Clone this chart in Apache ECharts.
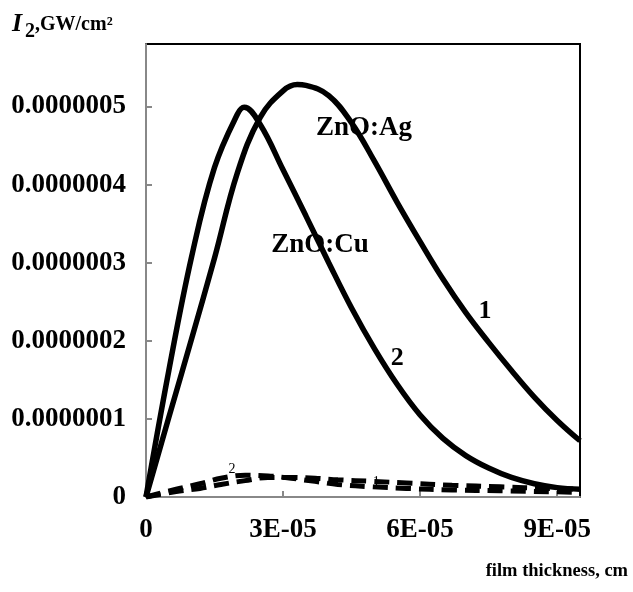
<!DOCTYPE html>
<html>
<head>
<meta charset="utf-8">
<script src="https://cdn.jsdelivr.net/npm/echarts@6/dist/echarts.min.js"></script>
<style>
  html, body { margin: 0; background: #fff; }
  #chart { width: 633px; height: 592px; }
</style>
</head>
<body>
<div id="chart"></div>
<script>
// thickness in units of 1e-5 cm, intensity in units of 1e-7 GW/cm2
const X_UNIT = 1e-5;
const Y_UNIT = 1e-7;

// curve 1, ZnO:Ag (solid)
const agSolid = [
  [0, 0], [0.5, 1.02], [1.0, 2.03], [1.5, 3.06], [2.0, 4.15], [2.5, 4.86],
  [3.0, 5.2], [3.31, 5.28], [3.5, 5.27], [4.0, 5.14], [4.5, 4.79], [5.0, 4.3],
  [5.5, 3.77], [6.0, 3.27], [6.5, 2.79], [7.0, 2.36], [7.5, 1.98], [8.0, 1.62],
  [8.5, 1.28], [9.0, 0.98], [9.5, 0.72]
];
// curve 2, ZnO:Cu (solid)
const cuSolid = [
  [0, 0], [0.5, 1.62], [1.0, 3.08], [1.5, 4.22], [2.0, 4.9], [2.15, 4.99],
  [2.5, 4.77], [3.0, 4.19], [3.5, 3.6], [4.0, 3.0], [4.5, 2.42], [5.0, 1.9],
  [5.5, 1.44], [6.0, 1.05], [6.5, 0.75], [7.0, 0.53], [7.5, 0.37], [8.0, 0.25],
  [8.5, 0.17], [9.0, 0.12], [9.5, 0.1]
];
// dashed curves
const agDashed = [
  [0, 0], [0.66, 0.07], [1.18, 0.11], [1.64, 0.16], [2.17, 0.21], [2.67, 0.25],
  [3.18, 0.25], [3.7, 0.24], [4.2, 0.22], [4.97, 0.2], [5.7, 0.18], [6.7, 0.15],
  [7.75, 0.13], [8.8, 0.11], [9.5, 0.1]
];
const cuDashed = [
  [0, 0], [0.66, 0.1], [1.18, 0.17], [1.64, 0.24], [2.17, 0.28], [2.67, 0.27],
  [3.18, 0.24], [3.7, 0.2], [4.2, 0.16], [4.97, 0.13], [5.7, 0.11], [6.7, 0.09],
  [7.75, 0.08], [9.5, 0.06]
];

// annotation anchors (data units as above)
const curveLabels = [
  { text: 'ZnO:Ag', at: [4.77, 4.72], size: 27, bold: true },
  { text: 'ZnO:Cu', at: [3.81, 3.22], size: 27, bold: true },
  { text: '1', at: [7.42, 2.38], size: 26, bold: true },
  { text: '2', at: [5.5, 1.77], size: 26, bold: true },
  { text: '2', at: [1.88, 0.35], size: 14, bold: false },
  { text: '1', at: [5.04, 0.19], size: 14, bold: false }
];

const FONT = '"Liberation Serif", "Times New Roman", serif';

function scale(arr) {
  return arr.map(p => [p[0] * X_UNIT, p[1] * Y_UNIT]);
}

const chart = echarts.init(document.getElementById('chart'));

const solidStyle = { color: '#000', width: 5.5 };
const dashStyle = { color: '#000', width: 5, type: [15, 8] };

const option = {
  animation: false,
  grid: {
    left: 146, right: 53, top: 44, bottom: 95,
    show: true, borderColor: '#000', borderWidth: 2, backgroundColor: '#fff'
  },
  xAxis: {
    type: 'value',
    min: 0,
    max: 9.5 * X_UNIT,
    interval: 3 * X_UNIT,
    splitLine: { show: false },
    axisLine: { lineStyle: { color: '#888', width: 2 } },
    axisTick: { inside: true, length: 6, lineStyle: { color: '#888', width: 2 } },
    axisLabel: {
      showMaxLabel: false,
      margin: 20,
      color: '#000',
      fontSize: 27,
      fontWeight: 'bold',
      fontFamily: FONT,
      formatter: v => {
        const n = Math.round(v / X_UNIT);
        return n === 0 ? '0' : n + 'E-05';
      }
    }
  },
  yAxis: {
    type: 'value',
    min: 0,
    max: 5.8 * Y_UNIT,
    interval: 1 * Y_UNIT,
    splitLine: { show: false },
    axisLine: { lineStyle: { color: '#888', width: 2 } },
    axisTick: { inside: true, length: 6, lineStyle: { color: '#888', width: 2 } },
    axisLabel: {
      showMaxLabel: false,
      margin: 20,
      color: '#000',
      fontSize: 27,
      fontWeight: 'bold',
      fontFamily: FONT,
      formatter: v => {
        const n = Math.round(v / Y_UNIT);
        return n === 0 ? '0' : (n * 1e-7).toFixed(7);
      }
    }
  },
  series: [
    { type: 'line', data: scale(agSolid), smooth: 0.4, symbol: 'none', lineStyle: solidStyle, z: 3 },
    { type: 'line', data: scale(cuSolid), smooth: 0.4, symbol: 'none', lineStyle: solidStyle, z: 3 },
    { type: 'line', data: scale(agDashed), smooth: 0.35, symbol: 'none', lineStyle: dashStyle, z: 2 },
    { type: 'line', data: scale(cuDashed), smooth: 0.35, symbol: 'none', lineStyle: dashStyle, z: 2 }
  ]
};

chart.setOption(option);

// text: axis titles and curve annotations
const graphics = [
  { type: 'text', left: 12, top: 11, style: { text: 'I', font: 'italic bold 26px ' + FONT, fill: '#000' } },
  { type: 'text', left: 25, top: 22, style: { text: '2', font: 'bold 20px ' + FONT, fill: '#000' } },
  { type: 'text', left: 35, top: 15, style: { text: ',GW/cm²', font: 'bold 20px ' + FONT, fill: '#000' } },
  { type: 'text', right: 5, top: 562, style: { text: 'film thickness, cm', font: 'bold 18.5px ' + FONT, fill: '#000' } }
];
curveLabels.forEach(l => {
  const p = chart.convertToPixel({ gridIndex: 0 }, [l.at[0] * X_UNIT, l.at[1] * Y_UNIT]);
  graphics.push({
    type: 'text', x: p[0], y: p[1], z: 10,
    style: {
      text: l.text,
      font: (l.bold ? 'bold ' : '') + l.size + 'px ' + FONT,
      fill: '#000', align: 'center', verticalAlign: 'middle'
    }
  });
});
chart.setOption({ graphic: graphics });
</script>
</body>
</html>
